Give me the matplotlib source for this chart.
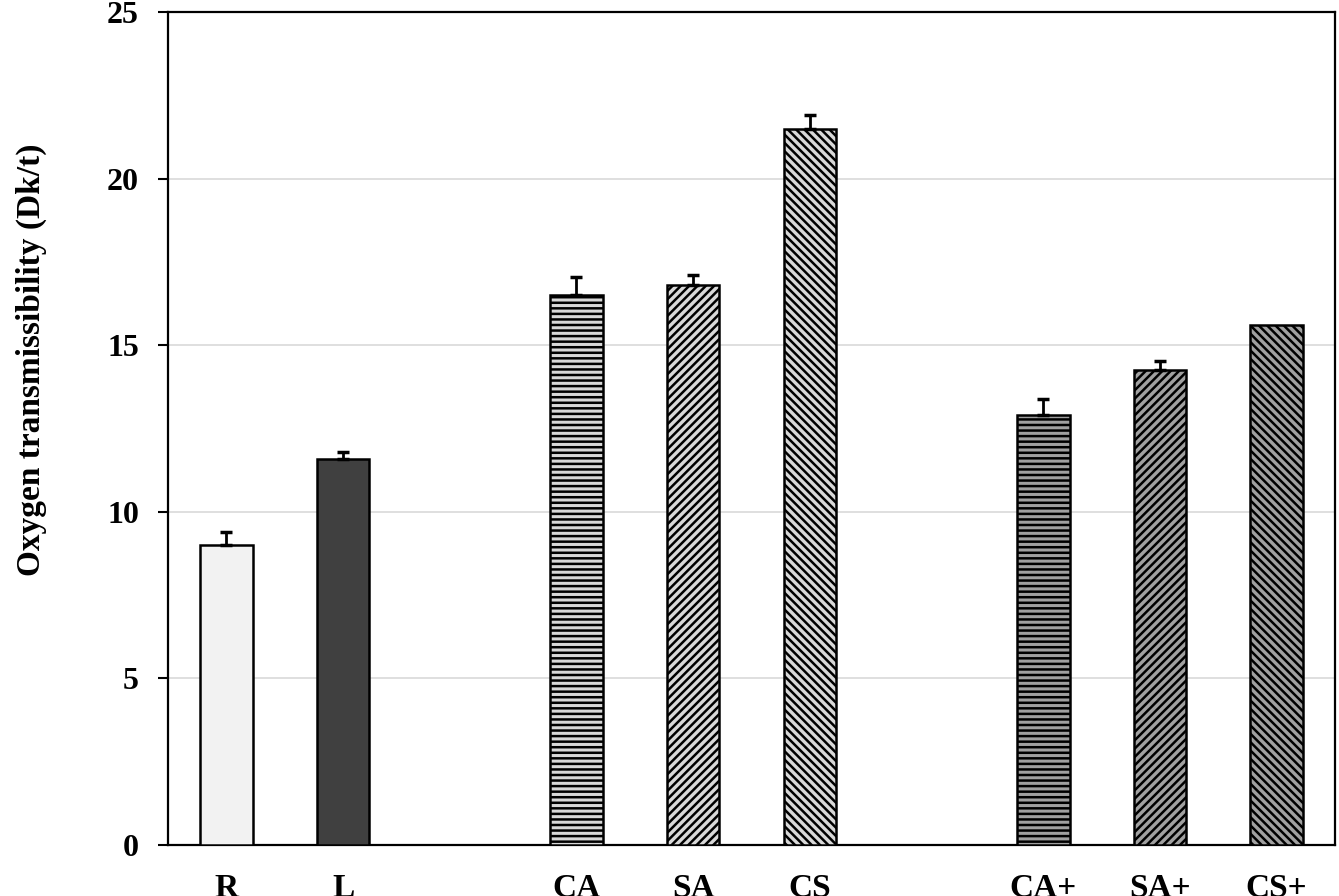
import numpy as np
import matplotlib
matplotlib.use("Agg")
import matplotlib.pyplot as plt

# data
labels = ["R", "L", "CA", "SA", "CS", "CA+", "SA+", "CS+"]
positions = [0, 1, 3, 4, 5, 7, 8, 9]
values = [9.0, 11.6, 16.5, 16.8, 21.5, 12.9, 14.25, 15.6]
errors = [0.4, 0.2, 0.55, 0.3, 0.42, 0.48, 0.27, 0.0]

faces = ["#f2f2f2", "#404040", "#d8d8d8", "#d8d8d8", "#d8d8d8",
         "#a0a0a0", "#a0a0a0", "#a0a0a0"]
hatches = [None, None, "---", "////", "\\\\\\\\", "---", "////", "\\\\\\\\"]

plt.rcParams["font.family"] = ["Liberation Serif", "DejaVu Serif"]
plt.rcParams["font.weight"] = "bold"
plt.rcParams["hatch.linewidth"] = 1.8

fig = plt.figure(figsize=(13.39, 8.96), dpi=100)
ax = fig.add_axes([0.1255, 0.0569, 0.8715, 0.9297])

for x, v, e, fc, h in zip(positions, values, errors, faces, hatches):
    ax.bar(x, v, width=0.45, color=fc, edgecolor="black", linewidth=1.8,
           hatch=h, zorder=3)
    if e > 0:
        ax.errorbar(x, v, yerr=[[0], [e]], fmt="none", ecolor="black",
                    elinewidth=2, capsize=4, capthick=2.5, zorder=4)

ax.set_xlim(-0.5, 9.5)
ax.set_ylim(0, 25)
ax.set_yticks([0, 5, 10, 15, 20, 25])
ax.set_xticks(positions)
ax.set_xticklabels(labels)
ax.yaxis.grid(True, color="#d9d9d9", linewidth=1.2, zorder=0)
ax.set_axisbelow(True)

ax.tick_params(axis="x", length=0, pad=20, labelsize=24)
ax.tick_params(axis="y", direction="out", length=7, width=1.5, pad=14, labelsize=23)
for s in ax.spines.values():
    s.set_linewidth(1.6)

ax.set_ylabel("Oxygen transmissibility (Dk/t)", fontsize=24, fontweight="bold")
ax.yaxis.set_label_coords(-0.104, 0.582)

plt.savefig("out.png", dpi=100)
plt.close()
